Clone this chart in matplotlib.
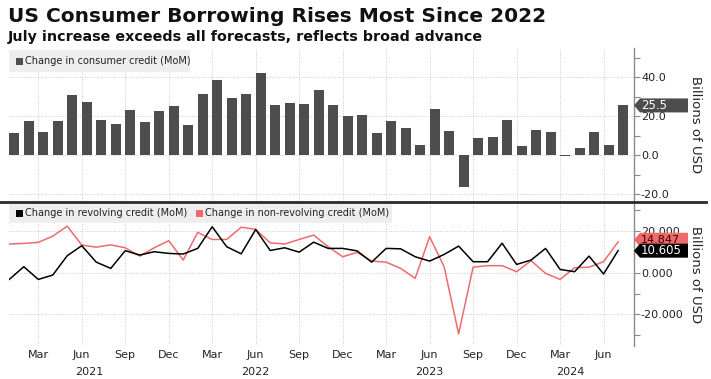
import matplotlib
matplotlib.use("Agg")
import matplotlib.pyplot as plt
import matplotlib.transforms as mtransforms
from matplotlib.patches import Rectangle, Polygon
from matplotlib.lines import Line2D
import numpy as np
import pandas as pd

# ---------------- data ----------------
months = pd.date_range("2021-01-01", "2024-07-01", freq="MS")
consumer_credit = [11.1, 17.3, 11.7, 17.3, 31.0, 27.2, 17.9, 15.8, 23.0, 16.8,
                   22.4, 25.2, 15.3, 31.6, 38.8, 29.1, 31.5, 42.0, 25.9, 26.5,
                   26.2, 33.5, 25.5, 19.9, 20.4, 11.4, 17.4, 14.0, 5.4, 23.5,
                   12.6, -16.2, 8.9, 9.4, 18.2, 4.6, 12.8, 11.9, -0.5, 3.7,
                   11.6, 5.3, 25.5]
revolving = [-3.2, 2.9, -3.2, -1.1, 8.2, 13.0, 5.1, 2.1, 10.6, 8.5,
             10.1, 9.3, 9.0, 11.7, 22.1, 12.5, 9.1, 20.8, 10.7, 12.0,
             9.9, 14.7, 11.7, 11.7, 10.5, 5.1, 11.7, 11.5, 7.7, 5.6,
             8.8, 12.8, 5.3, 5.3, 14.2, 4.0, 6.1, 11.7, 1.6, 0.5,
             8.0, -0.6, 10.605]
non_revolving = [13.8, 14.1, 14.6, 17.6, 22.4, 13.3, 12.3, 13.4, 12.0, 8.0,
                 12.0, 15.4, 6.1, 19.4, 16.0, 16.0, 21.9, 20.8, 14.4, 13.8,
                 16.0, 18.1, 12.5, 7.7, 9.8, 5.6, 5.1, 2.1, -2.7, 17.3,
                 2.9, -29.4, 2.7, 3.4, 3.4, 0.5, 5.8, -0.3, -3.2, 2.4,
                 2.7, 5.3, 14.847]
last_labels = {"consumer": "25.5", "revolving": "10.605", "nonrev": "14.847"}
tick_month_names = {3: "Mar", 6: "Jun", 9: "Sep", 12: "Dec"}
year_labels = ["2021", "2022", "2023", "2024"]
year_label_pos = [5.5, 17.0, 29.0, 38.7]

title = "US Consumer Borrowing Rises Most Since 2022"
subtitle = "July increase exceeds all forecasts, reflects broad advance"

# ---------------- style ----------------
W, H = 711, 379
DPI = 100
BAR_C = "#4d4d4d"
RED = "#ef6b6b"
GRID_C = "#cccccc"
TXT = "#222222"
SPINE_C = "#8a8a8a"

def fx(x):
    return x / W

def fy(y):
    return 1 - y / H

fig = plt.figure(figsize=(W / DPI, H / DPI), dpi=DPI)
fig.patch.set_facecolor("white")

x = np.arange(len(months))
tick_idx = [i for i, m in enumerate(months) if m.month in tick_month_names]
tick_lab = [tick_month_names[months[i].month] for i in tick_idx]

left, right = 9, 634
ax1 = fig.add_axes([fx(left), fy(201), fx(right) - fx(left), (201 - 48) / H])
ax2 = fig.add_axes([fx(left), fy(346), fx(right) - fx(left), (346 - 202) / H])

for ax in (ax1, ax2):
    ax.set_facecolor("none")
    for s in ("left", "top", "bottom"):
        ax.spines[s].set_visible(False)
    ax.spines["right"].set_color(SPINE_C)
    ax.spines["right"].set_linewidth(1.0)
    ax.yaxis.tick_right()
    ax.set_xlim(-0.02, 43.1)
    ax.set_xticks(tick_idx)
    ax.tick_params(axis="x", length=0)
    ax.tick_params(axis="y", which="both", length=4, width=0.8, color=SPINE_C,
                   labelsize=8, labelcolor=TXT, pad=1)
    ax.grid(True, which="major", color=GRID_C, linestyle=(0, (1, 1.5)), linewidth=0.7)
    ax.set_axisbelow(True)

# top panel
ax1.bar(x, consumer_credit, width=0.7, align="edge", color=BAR_C, zorder=3)
ax1.set_ylim(-23.6, 55.0)
ax1.set_yticks([-20, 0, 20, 40])
ax1.set_yticklabels(["-20.0", "0.0", "20.0", "40.0"])
ax1.set_yticks([-10, 10, 30, 50], minor=True)
ax1.set_xticklabels([])

# bottom panel
ax2.plot(x, non_revolving, color=RED, lw=1.1, zorder=3)
ax2.plot(x, revolving, color="black", lw=1.1, zorder=4)
ax2.set_ylim(-35.2, 34.0)
ax2.set_yticks([-20, 0, 20])
ax2.set_yticklabels(["-20.000", "0.000", "20.000"])
ax2.set_yticks([-30, -10, 10, 30], minor=True)
ax2.set_xticklabels(tick_lab, fontsize=8, color=TXT)
ax2.tick_params(axis="x", pad=3)
for lab, pos in zip(year_labels, year_label_pos):
    ax2.annotate(lab, xy=(pos, 0), xycoords=("data", "axes fraction"),
                 xytext=(0, -19), textcoords="offset points", ha="center",
                 va="center", fontsize=8, color=TXT, annotation_clip=False)

# value tags
def tag(ax, yval, text, fc, tc, fs=8.5):
    trans = mtransforms.blended_transform_factory(ax.transAxes, ax.transData)
    ax_w = (right - left)
    ylo, yhi = ax.get_ylim()
    ax_h_px = ax.get_position().height * H
    hh = 7.0 / (ax_h_px / (yhi - ylo))
    tip = 6 / ax_w
    wbox = 54 / ax_w
    poly = Polygon([(1.0, yval), (1.0 + tip, yval + hh), (1.0 + wbox, yval + hh),
                    (1.0 + wbox, yval - hh), (1.0 + tip, yval - hh)],
                   closed=True, transform=trans, fc=fc, ec="none",
                   clip_on=False, zorder=10)
    ax.add_patch(poly)
    ax.text(1.0 + 7 / ax_w, yval, text, transform=trans, ha="left", va="center",
            fontsize=fs, color=tc, clip_on=False, zorder=11)

tag(ax1, consumer_credit[-1], last_labels["consumer"], BAR_C, "white")
tag(ax2, non_revolving[-1] + 1.0, last_labels["nonrev"], RED, "#3a0000", fs=8)
tag(ax2, revolving[-1], last_labels["revolving"], "black", "white")

# y-axis titles
fig.text(fx(696), fy(124.5), "Billions of USD", rotation=270, ha="center",
         va="center", fontsize=9.5, color=TXT)
fig.text(fx(696), fy(274.5), "Billions of USD", rotation=270, ha="center",
         va="center", fontsize=9.5, color=TXT)

# legends (manual)
fig.patches.append(Rectangle((fx(9), fy(72)), fx(190) - fx(9), (72 - 50) / H,
                             transform=fig.transFigure, fc="#eeeeee", ec="none", zorder=5))
fig.patches.append(Rectangle((fx(16), fy(65)), 7 / W, 7 / H,
                             transform=fig.transFigure, fc=BAR_C, ec="none", zorder=6))
fig.text(fx(25), fy(61.5), "Change in consumer credit (MoM)", fontsize=7,
         color=TXT, va="center", ha="left", zorder=7)

fig.patches.append(Rectangle((fx(9), fy(223)), fx(392) - fx(9), (223 - 204) / H,
                             transform=fig.transFigure, fc="#eeeeee", ec="none", zorder=5))
fig.patches.append(Rectangle((fx(16), fy(217)), 7 / W, 7 / H,
                             transform=fig.transFigure, fc="black", ec="none", zorder=6))
fig.text(fx(25), fy(213.5), "Change in revolving credit (MoM)", fontsize=7,
         color=TXT, va="center", ha="left", zorder=7)
fig.patches.append(Rectangle((fx(196), fy(217)), 7 / W, 7 / H,
                             transform=fig.transFigure, fc=RED, ec="none", zorder=6))
fig.text(fx(205), fy(213.5), "Change in non-revolving credit (MoM)", fontsize=7,
         color=TXT, va="center", ha="left", zorder=7)

# divider
fig.add_artist(Line2D([0, fx(706)], [fy(201.5), fy(201.5)], transform=fig.transFigure,
                      color="#2b2b2b", lw=2.0, zorder=8))

# titles
fig.text(fx(8), fy(16), title, fontsize=14.5, fontweight="bold", color="#111111",
         ha="left", va="center")
fig.text(fx(8), fy(36.5), subtitle, fontsize=10.3, fontweight="bold", color="#111111",
         ha="left", va="center")

fig.savefig("out.png", dpi=DPI)
